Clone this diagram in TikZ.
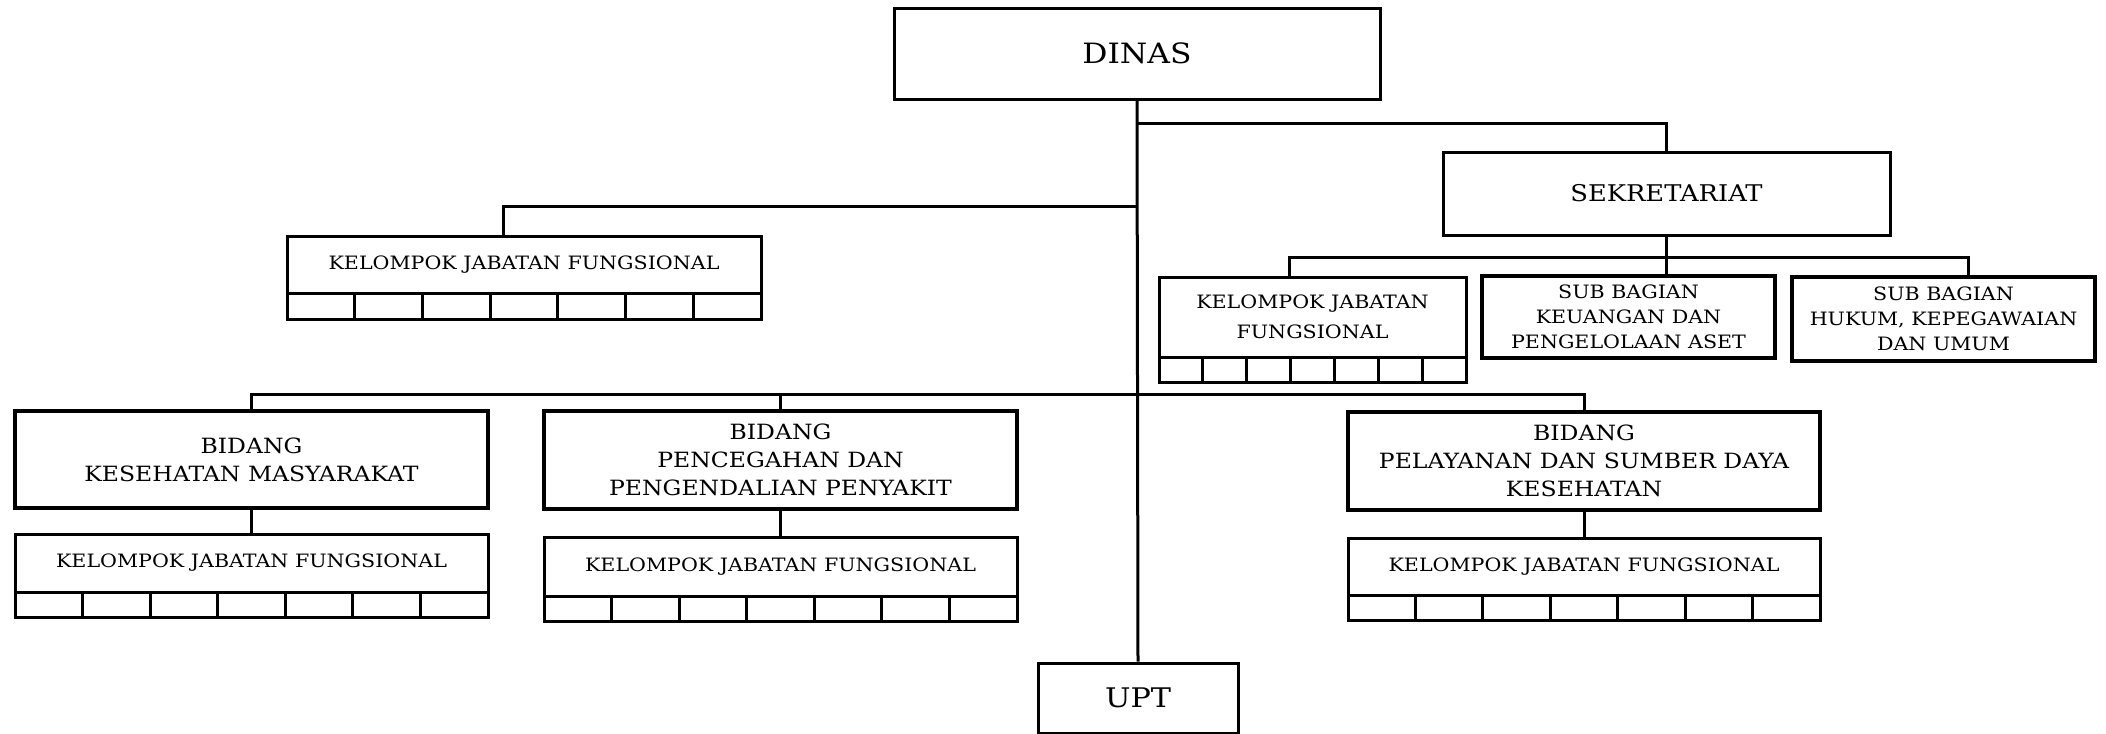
\documentclass[tikz,border=0pt]{standalone}
\usepackage{fontspec}
\setmainfont{DejaVu Serif}[FakeStretch=1.12]
\tikzset{
  box/.style={draw, line width=1.5pt, inner sep=0pt, align=center},
  heavybox/.style={box, line width=2pt},
  conn/.style={line width=1.5pt},
  cellline/.style={line width=1.5pt},
  smalltext/.style={font=\fontsize{9.2}{12.5}\selectfont},
  kjftext/.style={font=\fontsize{9.2}{15}\selectfont},
  bidtext/.style={font=\fontsize{10.5}{14}\selectfont},
}
\newcommand\cellrow[4]{%
  \draw[cellline] (#1,#3) rectangle (#2,#4);
  \foreach \i in {1,...,6} \draw[cellline] ({#1+\i*(#2-#1)/7},#3) -- ({#1+\i*(#2-#1)/7},#4);}
\begin{document}
\begin{tikzpicture}[x=0.5pt,y=-0.5pt]
\useasboundingbox (0,0) rectangle (2106,734);
% top
\node[box, minimum width=243pt, minimum height=45.5pt, font=\fontsize{14}{16}\selectfont] (dinas) at (1137,53.5) {DINAS};
\node[box, minimum width=223.5pt, minimum height=41.5pt, font=\fontsize{11.5}{14}\selectfont] (sekr) at (1666.5,193.5) {SEKRETARIAT};
% left KJF
\node[box, minimum width=237pt, minimum height=28.5pt, smalltext] (kjfA) at (524,264.5) {KELOMPOK JABATAN FUNGSIONAL};
\cellrow{287}{761}{293}{319}
% sekretariat children
\node[box, minimum width=153.5pt, minimum height=40pt, kjftext] (kjfS) at (1312.5,317) {KELOMPOK JABATAN\\FUNGSIONAL};
\cellrow{1159}{1466}{357}{382}
\node[heavybox, minimum width=146.5pt, minimum height=41pt, smalltext] (subkeu) at (1628.5,317) {SUB BAGIAN\\KEUANGAN DAN\\PENGELOLAAN ASET};
\node[heavybox, minimum width=151.5pt, minimum height=42pt, smalltext] (subhuk) at (1943.5,319) {SUB BAGIAN\\HUKUM, KEPEGAWAIAN\\DAN UMUM};
% bidang
\node[heavybox, minimum width=236.5pt, minimum height=48.5pt, bidtext] (kesmas) at (251.5,459.5) {BIDANG\\KESEHATAN MASYARAKAT};
\node[box, minimum width=236.5pt, minimum height=29pt, smalltext] (kjfK) at (251.5,563) {KELOMPOK JABATAN FUNGSIONAL};
\cellrow{15}{488}{592}{617}
\node[heavybox, minimum width=236.5pt, minimum height=49pt, bidtext] (p2p) at (780.5,460) {BIDANG\\PENCEGAHAN DAN\\PENGENDALIAN PENYAKIT};
\node[box, minimum width=236.5pt, minimum height=29.5pt, smalltext] (kjfP) at (780.5,566.5) {KELOMPOK JABATAN FUNGSIONAL};
\cellrow{544}{1017}{596}{621}
\node[heavybox, minimum width=236pt, minimum height=49pt, bidtext] (pel) at (1584,461) {BIDANG\\PELAYANAN DAN SUMBER DAYA\\KESEHATAN};
\node[box, minimum width=236pt, minimum height=28.5pt, smalltext] (kjfL) at (1584,566.5) {KELOMPOK JABATAN FUNGSIONAL};
\cellrow{1348}{1820}{595}{620}
% UPT
\node[box, minimum width=100pt, minimum height=35pt, font=\fontsize{13.5}{16}\selectfont] (upt) at (1138,698) {UPT};
% junction coordinates
\coordinate (jS) at (1137,123);
\coordinate (jK) at (1137,206);
\coordinate (kA) at (503,236);
\coordinate (jSub) at (1667,257);
\coordinate (kS) at (1289,277);
\coordinate (hS) at (1968,277);
\coordinate (bus) at (1137,394);
% connectors
\draw[conn] (dinas.south) -- (upt.north);
\draw[conn] (jS) -| (sekr.north);
\draw[conn] (jK) -| (kA);
\draw[conn] (sekr.south) -- (sekr.south |- subkeu.north);
\draw[conn] (kS) |- (jSub) -| (hS);
\draw[conn] (kesmas.north) |- (bus) -| (pel.north);
\draw[conn] (p2p.north) -- (p2p.north |- bus);
\draw[conn] (kesmas.south) -- (kjfK.north);
\draw[conn] (p2p.south) -- (kjfP.north);
\draw[conn] (pel.south) -- (kjfL.north);
\end{tikzpicture}
\end{document}
